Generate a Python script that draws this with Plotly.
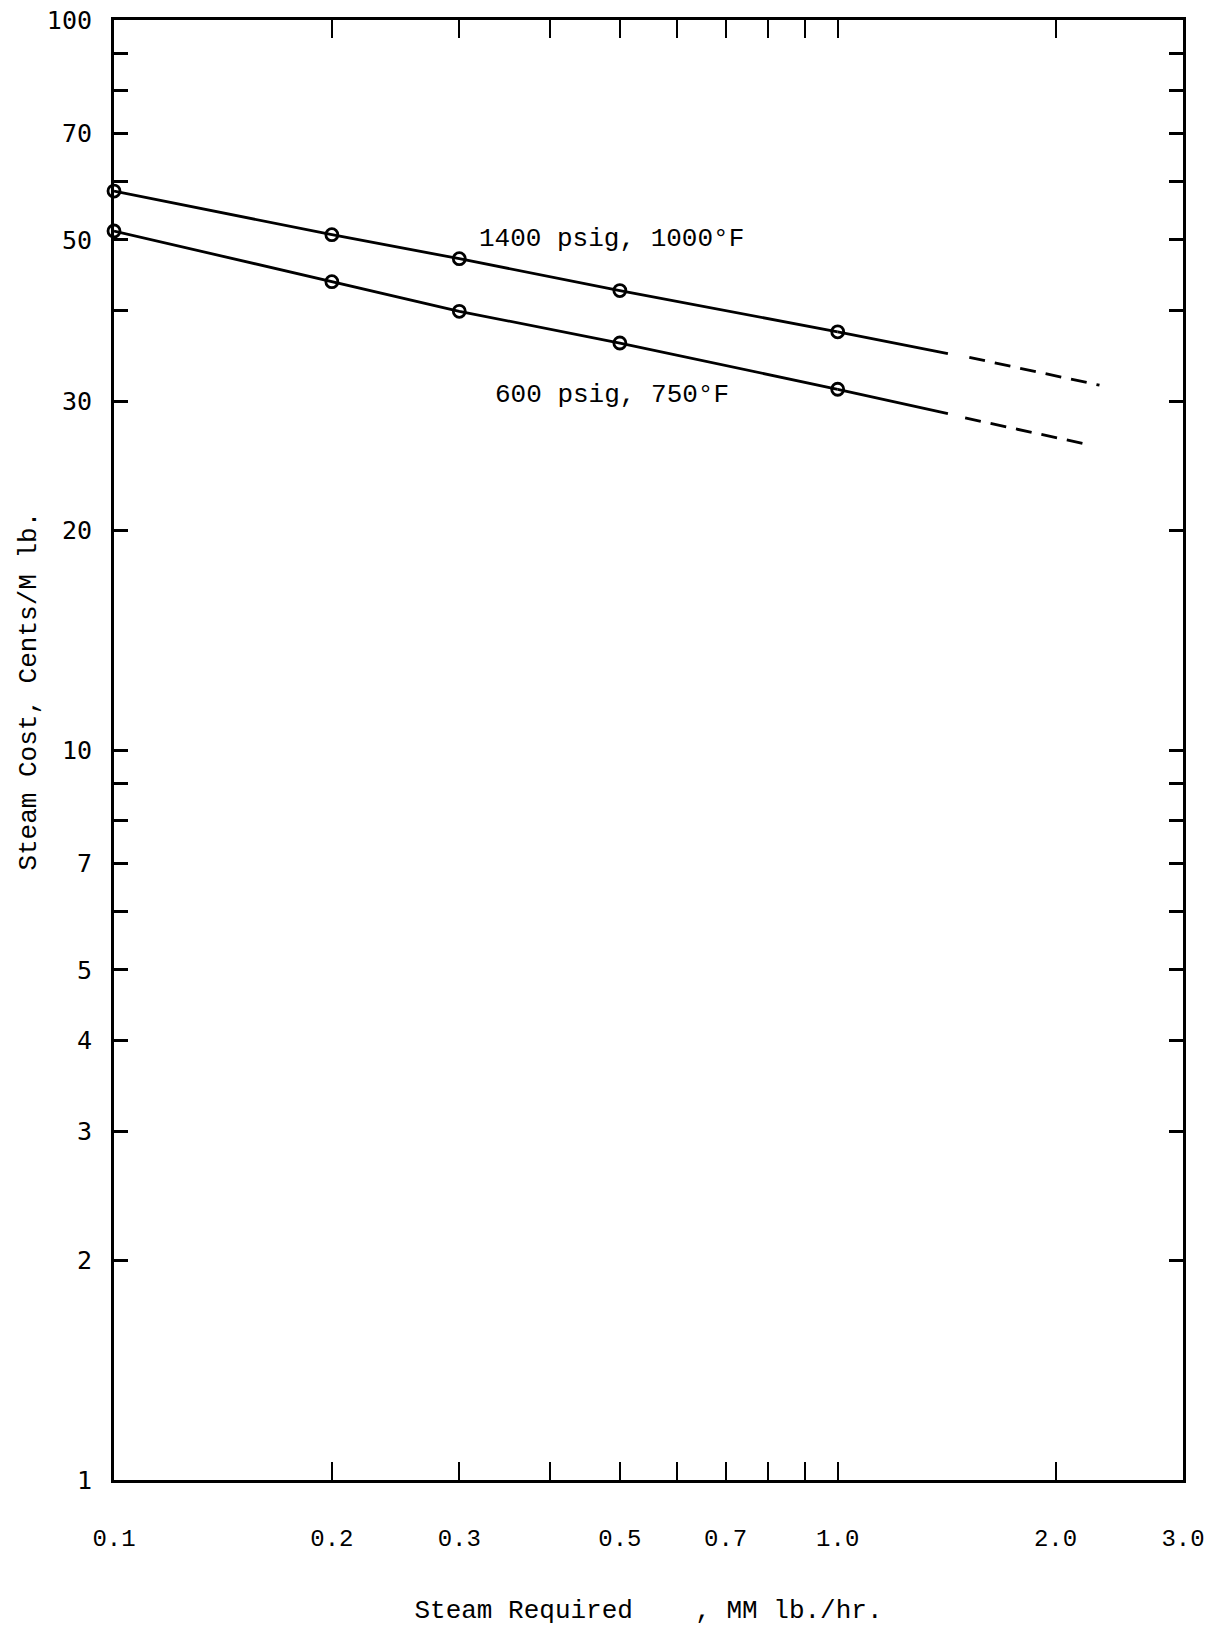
import math
import plotly.graph_objects as go

# ---- data ----
steam_required = [0.1, 0.2, 0.3, 0.5, 1.0]          # MM lb./hr.
cost_1400 = [58.3, 50.8, 47.1, 42.6, 37.4]           # cents / M lb.
cost_600 = [51.4, 43.8, 39.9, 36.1, 31.2]

# solid-line continuation beyond the last point
solid_end_x = [1.0, 1.42]
solid_end_1400 = [37.4, 34.9]
solid_end_600 = [31.2, 28.9]

# dashed extrapolation
dash_x_1400 = [1.52, 2.30]
dash_1400 = [34.5, 31.6]
dash_x_600 = [1.50, 2.22]
dash_600 = [28.5, 26.2]

label_1400 = "1400 psig, 1000°F"
label_600 = "600 psig, 750°F"
label_pos_x = 0.487
label_pos_y_1400 = 50.1
label_pos_y_600 = 30.6

x_title = "Steam Required\u00a0\u00a0\u00a0\u00a0, MM lb./hr."
y_title = "Steam Cost, Cents/M lb."

x_tickvals = [0.1, 0.2, 0.3, 0.4, 0.5, 0.6, 0.7, 0.8, 0.9, 1.0, 2.0, 3.0]
x_ticktext = ["0.1", "0.2", "0.3", "", "0.5", "", "0.7", "", "", "1.0", "2.0", "3.0"]
y_tickvals = [1, 2, 3, 4, 5, 6, 7, 8, 9, 10, 20, 30, 40, 50, 60, 70, 80, 90, 100]
y_ticktext = ["1", "2", "3", "4", "5", "", "7", "", "", "10", "20", "30", "", "50", "", "70", "", "", "100"]

LINE = dict(color="black", width=2.8)
MARK = dict(symbol="circle-open", size=12, color="black", line=dict(width=2.8, color="black"))
TXT = "Liberation Mono, Courier New, monospace"

fig = go.Figure()
for xs, ys in [(steam_required, cost_1400), (steam_required, cost_600)]:
    fig.add_trace(go.Scatter(x=xs, y=ys, mode="lines+markers", line=LINE, marker=MARK,
                             cliponaxis=False, showlegend=False, hoverinfo="x+y"))
for ys in [solid_end_1400, solid_end_600]:
    fig.add_trace(go.Scatter(x=solid_end_x, y=ys, mode="lines", line=LINE,
                             showlegend=False, hoverinfo="skip"))
for xs, ys in [(dash_x_1400, dash_1400), (dash_x_600, dash_600)]:
    fig.add_trace(go.Scatter(x=xs, y=ys, mode="lines",
                             line=dict(color="black", width=2.8, dash="16px,10px"),
                             showlegend=False, hoverinfo="skip"))

for txt, yv in [(label_1400, label_pos_y_1400), (label_600, label_pos_y_600)]:
    fig.add_annotation(x=math.log10(label_pos_x), y=math.log10(yv), text=txt,
                       showarrow=False, xref="x", yref="y",
                       font=dict(family=TXT, size=26, color="black"))

# y-axis title (placed above centre as in the reference)
fig.add_annotation(x=-0.0795, y=0.54, xref="paper", yref="paper", text=y_title,
                   textangle=-90, showarrow=False, xanchor="center", yanchor="middle",
                   font=dict(family=TXT, size=26, color="black"))

fig.update_xaxes(
    type="log", range=[math.log10(0.1), math.log10(3.0)],
    tickvals=x_tickvals, ticktext=x_ticktext,
    ticks="inside", ticklen=18, tickwidth=2, tickcolor="black",
    showline=True, linewidth=3, linecolor="black", mirror="ticks",
    showgrid=False, zeroline=False, automargin=False,
    tickfont=dict(family=TXT, size=24, color="black"),
    ticklabelstandoff=34,
    title=dict(text=x_title, font=dict(family=TXT, size=26, color="black"), standoff=49),
)
fig.update_yaxes(
    type="log", range=[0, 2],
    tickvals=y_tickvals, ticktext=y_ticktext,
    ticks="inside", ticklen=14, tickwidth=2.5, tickcolor="black",
    showline=True, linewidth=3, linecolor="black", mirror="ticks",
    showgrid=False, zeroline=False, automargin=False,
    tickfont=dict(family="DejaVu Sans Mono, monospace", size=25, color="black"),
    ticklabelstandoff=14,
)
fig.update_layout(
    width=1214, height=1627,
    margin=dict(l=114, r=31, t=20, b=147),
    paper_bgcolor="white", plot_bgcolor="white",
    showlegend=False,
)
fig.write_html("out.html")
